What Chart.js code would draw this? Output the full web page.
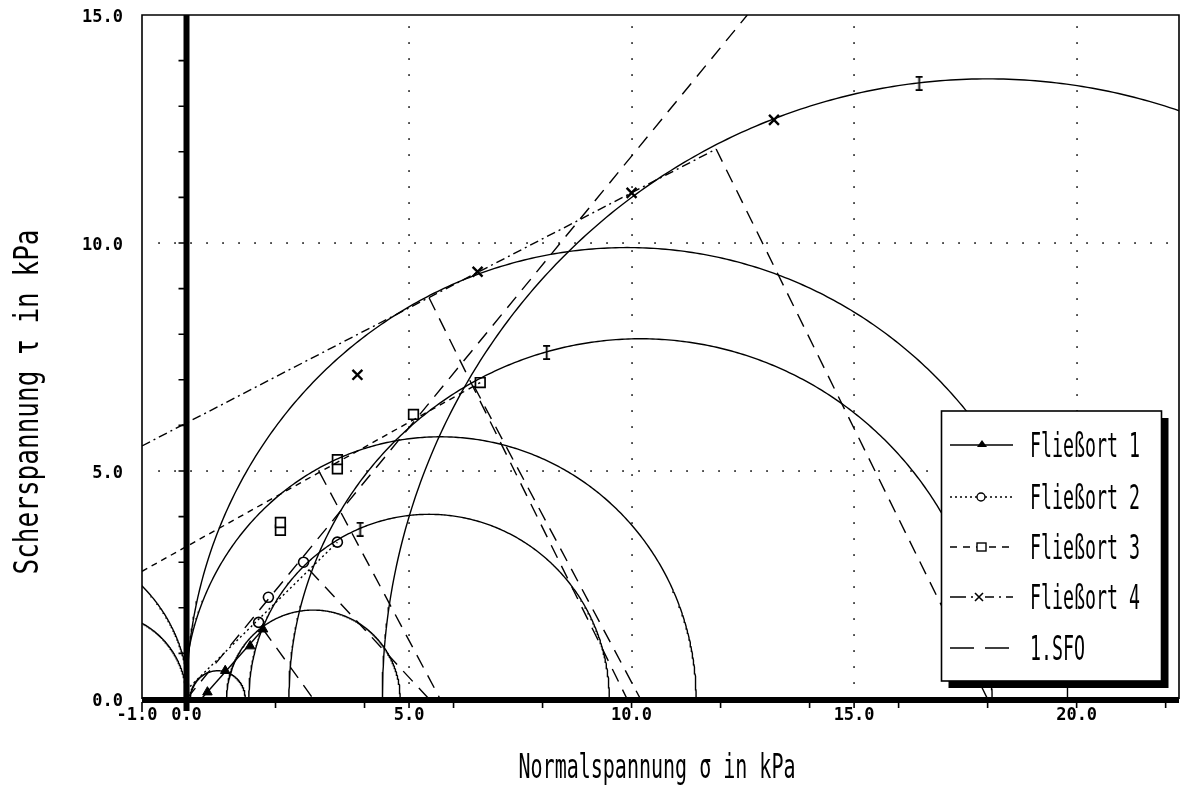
<!DOCTYPE html>
<html><head><meta charset="utf-8">
<script src="https://cdn.jsdelivr.net/npm/chart.js@4.4.1/dist/chart.umd.min.js"></script>
<style>html,body{margin:0;padding:0;background:#fff;}#wrap{width:1181px;height:789px;}</style>
</head><body><div id="wrap"><canvas id="c" width="1181" height="789"></canvas></div>
<script>
// ---- axis / labels ----
const xTickValues = [-1, 0, 5, 10, 15, 20];
const xTickLabels = ['-1.0', '0.0', '5.0', '10.0', '15.0', '20.0'];
const xSmallTicks = [-1, 0, 2, 4, 5, 6, 8, 10, 12, 14, 15, 16, 18, 20, 22];
const yTickValues = [0, 5, 10, 15];
const yTickLabels = ['0.0', '5.0', '10.0', '15.0'];
const ySmallTicks = [1,2,3,4,5,6,7,8,9,10,11,12,13,14];
const xGridValues = [5, 10, 15, 20];
const yGridValues = [5, 10];
const xTitle = 'Normalspannung σ in kPa';
const yTitle = 'Scherspannung τ in kPa';
const legendLabels = ['Fließort 1', 'Fließort 2', 'Fließort 3', 'Fließort 4', '1.SFO'];

// ---- Mohr circles (centre on σ axis, radius) ----
const circleCenters = [18.0, 9.9, 10.2, 5.7, 5.45, 2.85, 0.7, -3.4, -1.88];
const circleRadii   = [13.6, 9.9, 7.9, 5.75, 4.05, 1.95, 0.62, 3.45, 1.88];

// ---- Fließort 1 ----
const fo1PointsX = [0.47, 0.87, 1.43, 1.72];
const fo1PointsY = [0.15, 0.62, 1.16, 1.53];
const fo1LineX = [0.35, 1.72];
const fo1LineY = [0.02, 1.53];
// ---- Fließort 2 ----
const fo2PointsX = [1.62, 1.84, 2.63, 3.39];
const fo2PointsY = [1.68, 2.23, 3.0, 3.44];
const fo2LineX = [0.0, 3.39];
const fo2LineY = [0.2, 3.44];
// ---- Fließort 3 ----
const fo3PointsX = [2.11, 2.11, 3.39, 3.39, 5.1, 6.6];
const fo3PointsY = [3.7, 3.87, 5.05, 5.25, 6.24, 6.94];
const fo3LineX = [-1.0, 6.6];
const fo3LineY = [2.80, 6.94];
// ---- Fließort 4 ----
const fo4PointsX = [3.84, 6.54, 10.0, 13.2];
const fo4PointsY = [7.11, 9.37, 11.1, 12.7];
const fo4LineX = [-1.0, 11.9];
const fo4LineY = [5.55, 12.06];
// ---- preshear points ----
const preshearX = [16.46, 8.09, 3.9];
const preshearY = [13.5, 7.6, 3.72];
// ---- 1.SFO ----
const sfoX = [0.0, 12.6];
const sfoY = [0.0, 15.0];
// ---- radius lines (tangent point -> circle centre) ----
const radialFromX = [11.9, 5.45, 6.46, 2.99, 2.76, 1.72];
const radialFromY = [12.06, 8.8, 6.86, 4.97, 2.83, 1.53];
const radialToX   = [18.0, 9.9, 10.2, 5.7, 5.45, 2.85];

const INK = '#000';
const LW = 1.4;
const zip = (xs, ys) => xs.map((x, i) => ({x, y: ys[i]}));

function makeIMarker() {
  const c = document.createElement('canvas');
  c.width = 9; c.height = 15;
  const g = c.getContext('2d');
  g.fillStyle = INK;
  g.fillRect(3.7, 0, 1.8, 15);
  g.fillRect(1, 0, 7, 1.8);
  g.fillRect(1, 13.2, 7, 1.8);
  return c;
}

const datasets = [];
circleCenters.forEach((cx, i) => {
  const r = circleRadii[i];
  const pts = [];
  for (let k = 0; k <= 360; k++) {
    const a = Math.PI * k / 360;
    pts.push({x: cx + r * Math.cos(a), y: r * Math.sin(a)});
  }
  datasets.push({data: pts, showLine: true, borderColor: INK, borderWidth: LW, pointRadius: 0});
});
const lineDs = (xs, ys, dash) => ({data: zip(xs, ys), showLine: true, borderColor: INK, borderWidth: LW, borderDash: dash, pointRadius: 0});
datasets.push(lineDs(fo1LineX, fo1LineY, []));
datasets.push(lineDs(fo2LineX, fo2LineY, [2, 3]));
datasets.push(lineDs(fo3LineX, fo3LineY, [6, 5]));
datasets.push(lineDs(fo4LineX, fo4LineY, [9, 4, 2, 4]));
datasets.push(lineDs(sfoX, sfoY, [14, 9]));
radialFromX.forEach((x0, i) => {
  datasets.push(lineDs([x0, radialToX[i]], [radialFromY[i], 0], [14, 9]));
});
const markDs = (xs, ys, style, r, fill, bw) => ({data: zip(xs, ys), showLine: false, pointStyle: style, pointRadius: r, pointBackgroundColor: fill, pointBorderColor: INK, pointBorderWidth: bw});
datasets.push(markDs(fo1PointsX, fo1PointsY, 'triangle', 5.5, INK, 1));
datasets.push(markDs(fo2PointsX, fo2PointsY, 'circle', 5, '#fff', 1.6));
datasets.push(markDs(fo3PointsX, fo3PointsY, 'rect', 6.8, '#fff', 1.7));
datasets.push(markDs(fo4PointsX, fo4PointsY, 'crossRot', 7, INK, 2.4));
datasets.push(markDs(preshearX, preshearY, makeIMarker(), 6, INK, 1));

function condensedText(ctx, text, x, y, font, scale, align) {
  ctx.save();
  ctx.font = font;
  ctx.translate(x, y);
  ctx.scale(scale, 1);
  ctx.textAlign = align;
  ctx.textBaseline = 'alphabetic';
  ctx.fillText(text, 0, 0);
  ctx.restore();
}

const decor = {
  id: 'decor',
  beforeDatasetsDraw(chart) {
    const {ctx, chartArea: a, scales: {x, y}} = chart;
    ctx.save();
    ctx.fillStyle = '#222';
    xGridValues.forEach(v => {
      const px = Math.round(x.getPixelForValue(v));
      for (let py = a.bottom - 16; py > a.top + 4; py -= 16) ctx.fillRect(px - 0.8, py - 0.8, 1.7, 1.7);
    });
    yGridValues.forEach(v => {
      const py = Math.round(y.getPixelForValue(v));
      for (let px = a.left + 17; px < a.right - 2; px += 16) ctx.fillRect(px - 0.8, py - 0.8, 1.7, 1.7);
    });
    ctx.restore();
  },
  afterDatasetsDraw(chart) {
    const {ctx, chartArea: a, scales: {x, y}} = chart;
    ctx.save();
    ctx.strokeStyle = INK; ctx.fillStyle = INK;
    ctx.lineWidth = 1.6;
    ctx.beginPath();
    ctx.moveTo(a.left, a.bottom); ctx.lineTo(a.left, a.top); ctx.lineTo(a.right, a.top); ctx.lineTo(a.right, a.bottom);
    ctx.stroke();
    const y0 = y.getPixelForValue(0), x0 = x.getPixelForValue(0);
    ctx.fillRect(a.left, y0 - 2, a.right - a.left, 6);
    ctx.fillRect(x0 - 3, a.top, 6, y0 - a.top + 12);
    ctx.lineWidth = 1.6;
    ctx.beginPath();
    xSmallTicks.forEach(v => {
      const px = x.getPixelForValue(v);
      const len = (v === -1) ? 13 : 9;
      ctx.moveTo(px, y0 + 3); ctx.lineTo(px, y0 + len);
    });
    ySmallTicks.forEach(v => {
      const py = y.getPixelForValue(v);
      ctx.moveTo(x0 - 8, py); ctx.lineTo(x0, py);
    });
    ctx.stroke();
    ctx.font = 'bold 17px "DejaVu Sans Mono"';
    ctx.textBaseline = 'middle';
    ctx.textAlign = 'right';
    yTickValues.forEach((v, i) => ctx.fillText(yTickLabels[i], 123, y.getPixelForValue(v) + 3));
    ctx.textAlign = 'center';
    xTickValues.forEach((v, i) => {
      let px = x.getPixelForValue(v);
      if (v === -1) px -= 5;
      ctx.fillText(xTickLabels[i], px, 716);
    });
    const tFont = '33px "DejaVu Sans Mono"';
    ctx.font = tFont;
    const sx = 277 / ctx.measureText(xTitle).width;
    condensedText(ctx, xTitle, 657, 778, tFont, sx, 'center');
    ctx.save();
    ctx.translate(38, 402);
    ctx.rotate(-Math.PI / 2);
    ctx.font = tFont;
    const sy = 345 / ctx.measureText(yTitle).width;
    condensedText(ctx, yTitle, 0, 0, tFont, sy, 'center');
    ctx.restore();
    ctx.restore();
  },
  afterDraw(chart) {
    const ctx = chart.ctx;
    ctx.save();
    const L = 941.5, T = 411, R = 1161.5, B = 681;
    ctx.fillStyle = INK;
    ctx.fillRect(L + 7, T + 7, R - L, B - T);
    ctx.fillStyle = '#fff';
    ctx.fillRect(L, T, R - L, B - T);
    ctx.strokeStyle = INK; ctx.lineWidth = 1.6;
    ctx.strokeRect(L, T, R - L, B - T);
    const rows = [445, 497, 547, 597, 648];
    const dashes = [[], [2, 3], [7, 6], [16, 5, 2, 5], [24, 11]];
    ctx.lineWidth = 1.4;
    rows.forEach((ry, i) => {
      ctx.setLineDash(dashes[i]);
      ctx.beginPath(); ctx.moveTo(950, ry); ctx.lineTo(1013, ry); ctx.stroke();
    });
    ctx.setLineDash([]);
    ctx.fillStyle = INK;
    ctx.beginPath(); ctx.moveTo(982, rows[0] - 5); ctx.lineTo(987, rows[0] + 2); ctx.lineTo(977, rows[0] + 2); ctx.closePath(); ctx.fill();
    ctx.fillStyle = '#fff'; ctx.lineWidth = 1.4;
    ctx.beginPath(); ctx.arc(981, rows[1], 4, 0, 2 * Math.PI); ctx.fill(); ctx.stroke();
    ctx.fillRect(977, rows[2] - 4, 9, 8); ctx.strokeRect(977, rows[2] - 4, 9, 8);
    ctx.fillRect(974, rows[3] - 6, 11, 12);
    ctx.lineWidth = 1.6;
    ctx.beginPath(); ctx.moveTo(975, rows[3] - 4); ctx.lineTo(983, rows[3] + 4); ctx.moveTo(983, rows[3] - 4); ctx.lineTo(975, rows[3] + 4); ctx.stroke();
    ctx.fillStyle = INK;
    const lf = '34px "DejaVu Sans Mono"';
    ctx.font = lf;
    const ls = 110 / ctx.measureText(legendLabels[0]).width;
    legendLabels.forEach((t, i) => condensedText(ctx, t, 1030, rows[i] + 12, lf, ls, 'left'));
    ctx.restore();
  }
};

new Chart(document.getElementById('c'), {
  type: 'scatter',
  data: {datasets},
  options: {
    responsive: false,
    animation: false,
    events: [],
    devicePixelRatio: 1,
    layout: {autoPadding: false, padding: {left: 142, top: 15, right: 2, bottom: 90}},
    plugins: {legend: {display: false}, tooltip: {enabled: false}},
    scales: {
      x: {type: 'linear', min: -1, max: 22.3, display: false},
      y: {type: 'linear', min: 0, max: 15, display: false}
    }
  },
  plugins: [decor]
});
</script></body></html>
